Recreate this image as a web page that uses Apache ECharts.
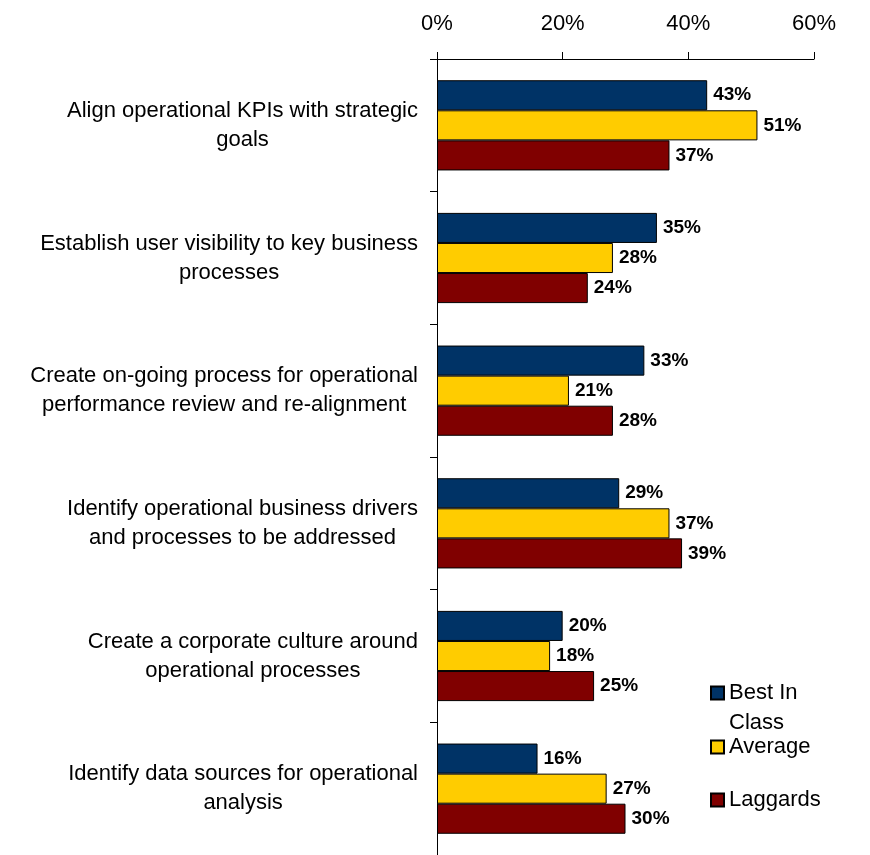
<!DOCTYPE html>
<html>
<head>
<meta charset="utf-8">
<script src="https://cdn.jsdelivr.net/npm/echarts@6/dist/echarts.min.js"></script>
<style>
  html, body { margin: 0; padding: 0; background: #fff; }
  #chart { width: 870px; height: 855px; }
</style>
</head>
<body>
<div id="chart"></div>
<script>
// Practices, top to bottom
const categories = [
  'Align operational KPIs with strategic\ngoals',
  'Establish user visibility to key business\nprocesses',
  'Create on-going process for operational\nperformance review and re-alignment',
  'Identify operational business drivers\nand processes to be addressed',
  'Create a corporate culture around\noperational processes',
  'Identify data sources for operational\nanalysis'
];

// Percent of respondents per group
const bestInClass = [43, 35, 33, 29, 20, 16];
const average     = [51, 28, 21, 37, 18, 27];
const laggards    = [37, 24, 28, 39, 25, 30];

const xTicks = [0, 20, 40, 60];

const FONT = '"Liberation Sans", Arial, sans-serif';

const chart = echarts.init(document.getElementById('chart'));

const valueLabel = {
  show: true,
  position: 'right',
  distance: 6,
  formatter: '{c}%',
  color: '#000',
  fontFamily: FONT,
  fontWeight: 'bold',
  fontSize: 19
};

function barSeries(name, data, color) {
  return {
    name: name,
    type: 'bar',
    data: data,
    barGap: '0%',
    barCategoryGap: '32%',
    itemStyle: { color: color, borderColor: '#000', borderWidth: 1 },
    label: valueLabel,
    emphasis: { disabled: true }
  };
}

const legendCommon = {
  orient: 'vertical',
  left: 710,
  padding: 0,
  icon: 'rect',
  itemWidth: 13,
  itemHeight: 13,
  selectedMode: false,
  textStyle: { fontFamily: FONT, fontSize: 22, color: '#000', lineHeight: 24 }
};

chart.setOption({
  animation: false,
  backgroundColor: '#fff',
  textStyle: { fontFamily: FONT },
  grid: { left: 437, right: 56, top: 59, bottom: 0, containLabel: false },
  xAxis: {
    type: 'value',
    position: 'top',
    min: xTicks[0],
    max: xTicks[xTicks.length - 1],
    interval: xTicks[1] - xTicks[0],
    axisLine: { show: true, lineStyle: { color: '#000', width: 1 } },
    axisTick: { show: true, length: 7, lineStyle: { color: '#000' } },
    splitLine: { show: false },
    axisLabel: {
      formatter: '{value}%',
      margin: 24,
      color: '#000',
      fontFamily: FONT,
      fontSize: 22
    }
  },
  yAxis: {
    type: 'category',
    inverse: true,
    data: categories,
    axisLine: { show: true, lineStyle: { color: '#000', width: 1 } },
    axisTick: { show: true, length: 7, lineStyle: { color: '#000' } },
    axisLabel: {
      align: 'right',
      margin: 19,
      formatter: function (v) {
        return v.split('\n').map(function (s) { return '{c|' + s + '}'; }).join('\n');
      },
      rich: {
        c: { align: 'center', fontFamily: FONT, fontSize: 22, lineHeight: 29, color: '#000' }
      }
    }
  },
  legend: [
    // blank first line keeps the icon level with "Best In"
    Object.assign({}, legendCommon, {
      top: 648,
      data: ['Best In Class'],
      formatter: function () { return '\u00a0\nBest In\nClass'; },
      textStyle: { fontFamily: FONT, fontSize: 22, color: '#000', lineHeight: 30 }
    }),
    Object.assign({}, legendCommon, { top: 735, data: ['Average'] }),
    Object.assign({}, legendCommon, { top: 788, data: ['Laggards'] })
  ],
  series: [
    barSeries('Best In Class', bestInClass, '#003366'),
    barSeries('Average', average, '#FFCC00'),
    barSeries('Laggards', laggards, '#800000')
  ]
});
</script>
</body>
</html>
